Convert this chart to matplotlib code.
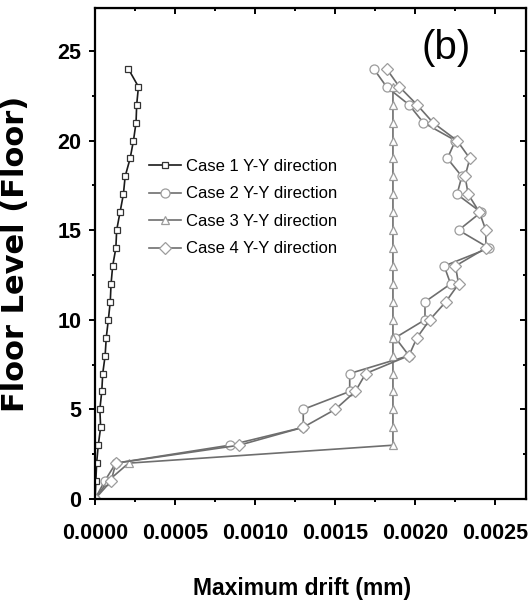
import matplotlib
matplotlib.use("Agg")
import matplotlib.pyplot as plt
from matplotlib.ticker import MultipleLocator, FormatStrFormatter

# 층 번호
floors = list(range(0, 25))
floors_c3 = list(range(0, 24))

# 최대 변위 (Y-Y 방향)
case1 = [0.0, 0.000005, 0.00001, 0.00002, 0.000035, 0.00003, 0.000042, 0.000048,
         0.000063, 0.00007, 0.000083, 0.000095, 0.0001, 0.00011, 0.00013, 0.000135,
         0.000156, 0.000177, 0.000188, 0.000219, 0.00024, 0.000256, 0.00026, 0.000271,
         0.000208]
case2 = [0.0, 0.00006, 0.00013, 0.00084, 0.0013, 0.0013, 0.00159, 0.00159,
         0.00196, 0.001875, 0.00206, 0.00206, 0.00222, 0.00218, 0.00246, 0.00227,
         0.00241, 0.00226, 0.00229, 0.0022, 0.00225, 0.00205, 0.00196, 0.00182,
         0.00174]
case3 = [0.0, 0.00008, 0.00021, 0.00186, 0.00186, 0.00186, 0.00186, 0.00186,
         0.00186, 0.00186, 0.00186, 0.00186, 0.00186, 0.00186, 0.00186, 0.00186,
         0.00186, 0.00186, 0.00186, 0.00186, 0.00186, 0.00186, 0.00186, 0.00186]
case4 = [0.0, 0.0001, 0.00013, 0.0009, 0.0013, 0.0015, 0.001625, 0.00169,
         0.00196, 0.00201, 0.00209, 0.00219, 0.00227, 0.00225, 0.00244, 0.00244,
         0.0024, 0.00233, 0.00231, 0.00234, 0.00226, 0.00211, 0.00201, 0.0019,
         0.00182]

labels = ["Case 1 Y-Y direction", "Case 2 Y-Y direction",
          "Case 3 Y-Y direction", "Case 4 Y-Y direction"]

font = ["Liberation Sans Narrow", "Liberation Sans", "DejaVu Sans"]

fig = plt.figure(figsize=(5.28, 6.10), dpi=100)
ax = fig.add_axes([0.18, 0.182, 0.816, 0.805])

gray_line = "#6e6e6e"
gray_edge = "#9c9c9c"

ax.plot(case1, floors, color="#1a1a1a", lw=1.2, marker="s", ms=4,
        mfc="white", mec="#333333", mew=0.9, label=labels[0])
ax.plot(case2, floors, color=gray_line, lw=1.2, marker="o", ms=6.5,
        mfc="white", mec=gray_edge, mew=0.9, label=labels[1])
ax.plot(case3, floors_c3, color=gray_line, lw=1.2, marker="^", ms=6,
        mfc="white", mec=gray_edge, mew=0.9, label=labels[2])
ax.plot(case4, floors, color=gray_line, lw=1.2, marker="D", ms=6.5,
        mfc="white", mec=gray_edge, mew=0.9, label=labels[3])

ax.set_xlim(0, 0.00269)
ax.set_ylim(0, 27.4)

ax.xaxis.set_major_locator(MultipleLocator(0.0005))
ax.xaxis.set_minor_locator(MultipleLocator(0.00025))
ax.xaxis.set_major_formatter(FormatStrFormatter("%.4f"))
ax.yaxis.set_major_locator(MultipleLocator(5))
ax.yaxis.set_minor_locator(MultipleLocator(2.5))

for s in ax.spines.values():
    s.set_linewidth(1.6)

ax.tick_params(which="both", direction="out", width=1.4, top=False, right=False)
ax.tick_params(which="major", length=4)
ax.tick_params(which="minor", length=2.5)
ax.tick_params(axis="x", pad=13)
ax.tick_params(axis="y", pad=6)

# 위/오른쪽 안쪽 눈금
ax2 = ax.secondary_xaxis("top")
ax2.xaxis.set_major_locator(MultipleLocator(0.0005))
ax2.xaxis.set_minor_locator(MultipleLocator(0.00025))
ax2.tick_params(which="both", direction="in", width=1.4, labeltop=False)
ax2.tick_params(which="major", length=4)
ax2.tick_params(which="minor", length=2.5)
ax3 = ax.secondary_yaxis("right")
ax3.yaxis.set_major_locator(MultipleLocator(5))
ax3.yaxis.set_minor_locator(MultipleLocator(2.5))
ax3.tick_params(which="both", direction="in", width=1.4, labelright=False)
ax3.tick_params(which="major", length=4)
ax3.tick_params(which="minor", length=2.5)

for lab in ax.get_xticklabels() + ax.get_yticklabels():
    lab.set_family(font)
    lab.set_fontweight("bold")
    lab.set_fontsize(15.5)

ax.set_xlabel("Maximum drift (mm)", family=font, fontweight="bold", fontsize=16.5)
ax.set_ylabel("Floor Level (Floor)", family="DejaVu Sans", fontweight="bold", fontsize=22)
ax.xaxis.set_label_coords(0.48, -0.158)
ax.yaxis.set_label_coords(-0.152, 0.5)

ax.text(0.815, 0.918, "(b)", transform=ax.transAxes, family=font,
        fontsize=29, ha="center", va="center")

ax.legend(loc="upper left", bbox_to_anchor=(0.11, 0.706), frameon=False,
          prop={"family": font, "size": 12}, handlelength=1.9,
          handletextpad=0.3, labelspacing=0.75, borderaxespad=0)

fig.savefig("out.png", dpi=100)
